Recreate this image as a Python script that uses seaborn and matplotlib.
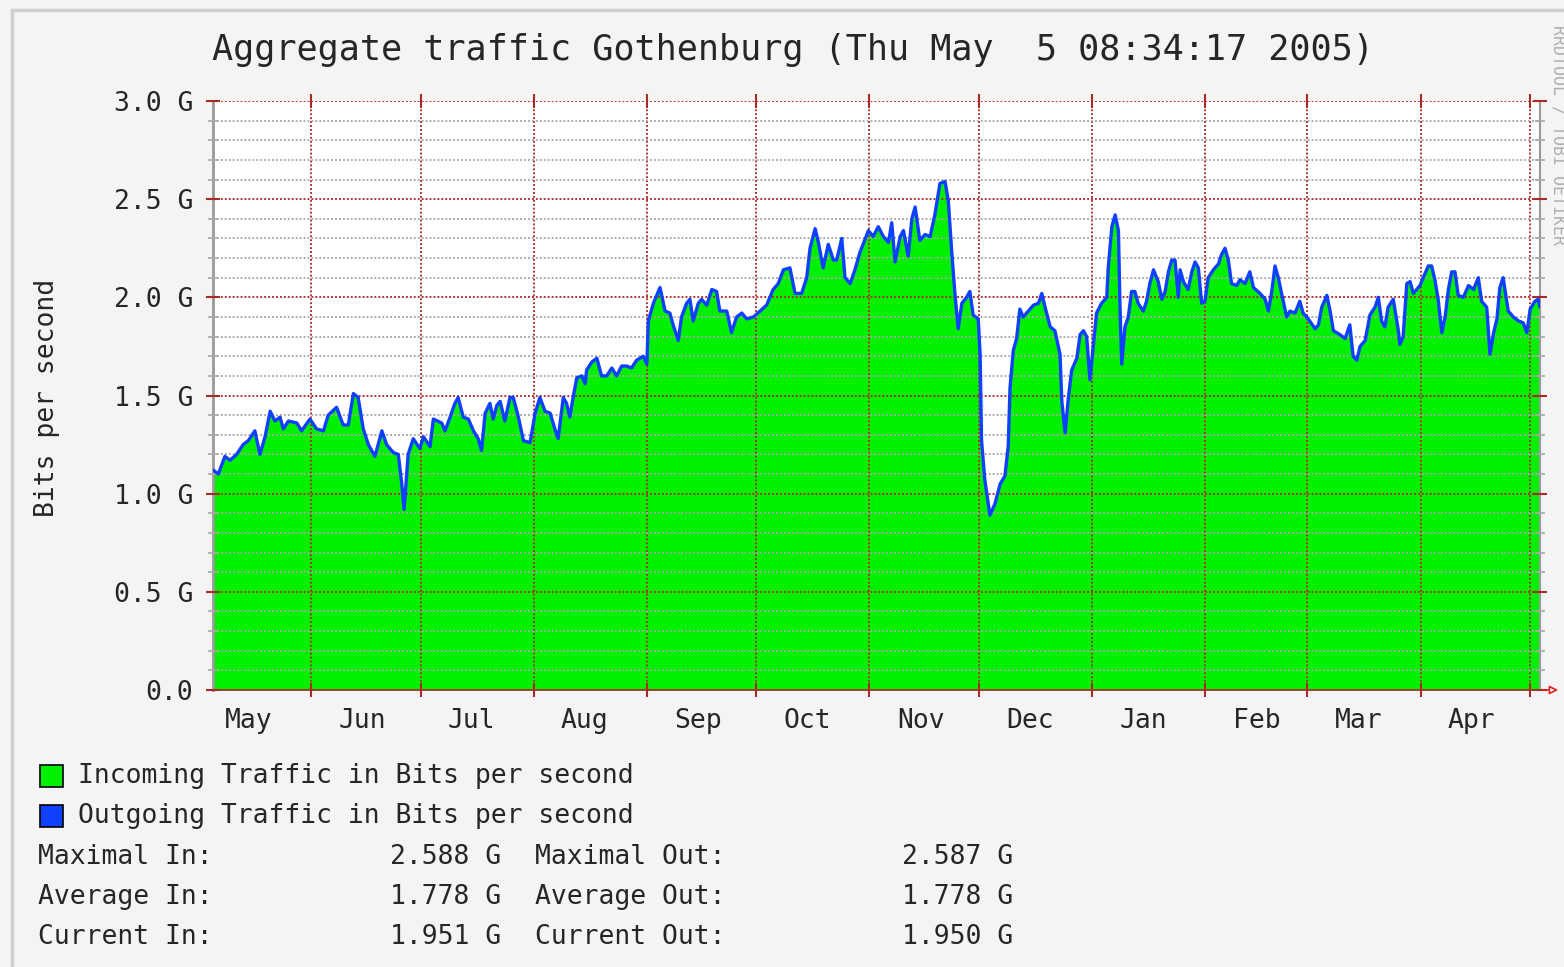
import pandas as pd
import matplotlib
matplotlib.use("Agg")
import matplotlib.pyplot as plt
import matplotlib.dates as mdates
from matplotlib.ticker import MultipleLocator, FixedLocator, FixedFormatter, NullFormatter
from matplotlib.patches import Rectangle
from matplotlib.lines import Line2D
import seaborn as sns

# ---- data -----------------------------------------------------------------
START = pd.Timestamp("2004-05-05")
END_DAY = 363.7

# days since START
days = [
    0.2, 1.6, 3.4, 4.8, 6.6, 8.4, 9.8, 11.6, 13.0, 14.4, 15.8, 17.1, 18.5, 19.4,
    20.8, 23.1, 24.4, 26.7, 28.5, 30.4, 31.7, 34.0, 35.8, 37.2, 38.6, 39.9, 41.3,
    42.7, 44.5, 46.4, 47.7, 49.5, 50.9, 51.8, 52.5, 53.6, 55.0, 56.8, 57.8,
    59.6, 60.5, 62.8, 63.7, 65.1, 66.4, 67.3, 68.7, 70.1, 71.5, 72.8, 73.7, 74.7,
    76.0, 76.9, 77.9, 78.8, 80.1, 81.5, 82.4, 83.8, 85.2, 87.0, 88.4, 89.7, 91.1,
    92.5, 93.8, 94.7, 96.1, 97.0, 97.9, 98.8, 99.8, 101.2, 102.1, 102.5, 103.9,
    105.3, 106.6, 108.0, 109.4, 110.7, 112.1, 113.5, 114.8, 116.2, 118.0, 119.0,
    119.4, 120.8, 122.6, 124.0, 125.3, 126.2, 127.6, 128.5, 129.9, 130.8, 131.7,
    133.1, 134.0, 135.4, 136.8, 138.1, 139.0, 140.9, 142.2, 143.6, 145.0, 146.4,
    148.2, 150.0, 151.8, 153.6, 155.0, 156.4, 158.2, 159.6, 161.4, 162.8, 163.7,
    165.1, 166.0, 167.3, 168.7, 170.1, 171.0, 172.4, 173.3, 174.7, 176.0, 177.4,
    179.7, 181.0, 182.4, 183.8, 185.2, 186.1, 187.0, 188.4, 189.3, 190.6, 191.6,
    192.5, 193.8, 195.2, 196.6, 197.9, 199.3, 200.7, 201.6, 202.5, 203.4, 204.3,
    205.3, 206.6, 207.5, 208.4, 209.8, 210.3, 210.7, 211.6, 213.0, 214.4, 215.8,
    217.1, 218.0, 218.5, 219.4, 220.3, 221.2, 222.1, 223.5, 224.9, 226.3, 227.2,
    228.1, 229.5, 230.8, 232.2, 232.7, 233.6, 234.5, 235.4, 236.8, 237.7, 238.6,
    239.5,
    240.4, 241.3, 242.2, 243.6, 245.0, 245.4, 246.4, 247.3, 248.2, 248.6, 249.1,
    250.0, 250.9, 251.8, 252.7, 253.6, 255.0, 255.9, 256.8, 257.8, 259.1, 260.1,
    261.0, 261.9, 262.8, 263.7, 264.6, 265.1, 266.0, 267.3, 268.3, 269.2, 270.1,
    271.0, 271.9, 272.8, 274.2, 275.6, 276.5, 277.4, 278.3, 279.2, 280.6, 281.5,
    282.9, 284.2, 285.2, 287.0, 288.4, 289.3, 290.2, 291.1, 292.0, 292.9, 294.3,
    295.2, 296.6, 297.9, 298.8, 300.2,
    302.1, 303.0, 303.9, 305.3, 306.2, 307.1, 308.9, 310.3, 311.6, 312.5, 313.5,
    314.4, 315.8, 317.1, 318.5, 319.4, 320.3, 321.2, 322.1, 323.5, 324.9, 325.3,
    326.2, 327.2, 328.1, 329.0, 329.9, 330.8, 331.7, 333.1, 334.0, 334.9, 335.8,
    336.8, 337.7, 338.6, 339.5, 340.4, 341.3, 342.7, 344.1, 345.5, 346.8, 347.7,
    349.1, 350.0, 351.0, 351.9, 352.7, 353.6, 355.0, 356.4, 357.8, 359.1, 360.1,
    361.0, 362.3, 363.2, 363.7,
]

# incoming traffic, Gbit/s
traffic_in = [
    1.12, 1.10, 1.19, 1.17, 1.20, 1.25, 1.27, 1.32, 1.20, 1.29, 1.42, 1.37, 1.39, 1.33,
    1.37, 1.36, 1.32, 1.38, 1.33, 1.32, 1.40, 1.44, 1.35, 1.35, 1.51, 1.49, 1.33,
    1.25, 1.19, 1.32, 1.25, 1.21, 1.20, 1.06, 0.92, 1.20, 1.28, 1.23, 1.29,
    1.24, 1.38, 1.36, 1.32, 1.39, 1.46, 1.49, 1.39, 1.38, 1.32, 1.28, 1.22, 1.41,
    1.46, 1.38, 1.45, 1.47, 1.37, 1.49, 1.49, 1.39, 1.27, 1.26, 1.41, 1.49, 1.42,
    1.41, 1.33, 1.28, 1.49, 1.46, 1.39, 1.49, 1.59, 1.60, 1.56, 1.63, 1.67,
    1.69, 1.60, 1.60, 1.64, 1.60, 1.65, 1.65, 1.64, 1.68, 1.70, 1.66,
    1.88, 1.97, 2.05, 1.93, 1.92, 1.86, 1.78, 1.90, 1.97, 1.99, 1.88,
    1.97, 1.99, 1.96, 2.04, 2.03, 1.93, 1.93, 1.82, 1.90, 1.92, 1.89,
    1.90, 1.93, 1.96, 2.04, 2.07, 2.14, 2.15, 2.02, 2.02, 2.10, 2.25,
    2.35, 2.28, 2.15, 2.27, 2.19, 2.19, 2.30, 2.10, 2.07, 2.14, 2.23,
    2.34, 2.31, 2.36, 2.31, 2.28, 2.38, 2.18, 2.31, 2.34, 2.21, 2.40,
    2.46, 2.29, 2.32, 2.31, 2.42, 2.58, 2.59, 2.49, 2.24, 2.02, 1.84,
    1.97, 2.00, 2.03, 1.91, 1.89, 1.71, 1.27, 1.07, 0.89, 0.95, 1.05,
    1.09, 1.24, 1.54, 1.73, 1.79, 1.94, 1.90, 1.93, 1.96, 1.97, 2.02,
    1.95, 1.85, 1.83, 1.71, 1.47, 1.31, 1.49, 1.63, 1.69, 1.81, 1.83,
    1.80,
    1.58, 1.75, 1.92, 1.97, 2.00, 2.15, 2.36, 2.42, 2.34, 1.98, 1.66,
    1.85, 1.90, 2.03, 2.03, 1.97, 1.93, 1.98, 2.07, 2.14, 2.08, 1.99,
    2.03, 2.13, 2.19, 2.19, 2.00, 2.14, 2.08, 2.04, 2.13, 2.18, 2.15,
    1.97, 1.98, 2.10, 2.14, 2.17, 2.22, 2.25, 2.19, 2.07, 2.06, 2.09,
    2.07, 2.13, 2.05, 2.02, 1.99, 1.93, 2.03, 2.16, 2.10, 2.02, 1.90,
    1.93, 1.92, 1.98, 1.92, 1.89,
    1.84, 1.86, 1.95, 2.01, 1.93, 1.83, 1.81, 1.79, 1.86, 1.70, 1.68,
    1.75, 1.78, 1.91, 1.95, 2.00, 1.88, 1.85, 1.95, 1.99, 1.83, 1.76,
    1.80, 2.07, 2.08, 2.02, 2.04, 2.06, 2.10, 2.16, 2.16, 2.09, 1.99,
    1.82, 1.90, 2.04, 2.13, 2.13, 2.01, 2.00, 2.06, 2.04, 2.10, 1.98,
    1.95, 1.71, 1.82, 1.89, 2.05, 2.10, 1.93, 1.90, 1.88, 1.87, 1.82,
    1.94, 1.98, 1.99, 1.95,
]
# outgoing traffic is indistinguishable from incoming on this graph
traffic_out = traffic_in

y_ticks = [0.0, 0.5, 1.0, 1.5, 2.0, 2.5, 3.0]
y_tick_labels = ["0.0", "0.5 G", "1.0 G", "1.5 G", "2.0 G", "2.5 G", "3.0 G"]

titulo = "Aggregate traffic Gothenburg (Thu May  5 08:34:17 2005)"
leyenda = ["Incoming Traffic in Bits per second", "Outgoing Traffic in Bits per second"]
stats_in = [("Maximal In:", "2.588 G"), ("Average In:", "1.778 G"), ("Current In:", "1.951 G")]
stats_out = [("Maximal Out:", "2.587 G"), ("Average Out:", "1.778 G"), ("Current Out:", "1.950 G")]

# ---- style -----------------------------------------------------------------
VERDE = "#00f000"
AZUL = "#1040ff"
ROJO = "#aa2a2a"
GRIS = "#a8a8a8"
FONDO = "#f4f4f4"

sns.set_style("white")
plt.rcParams["font.family"] = ["DejaVu Sans Mono"]

W, H = 1564, 967
def fx(px):
    return px / W
def fy(py):
    return 1 - py / H

df = pd.DataFrame({
    "time": START + pd.to_timedelta(days, unit="D"),
    "in": traffic_in,
    "out": traffic_out,
})

fig = plt.figure(figsize=(W / 100, H / 100), dpi=100, facecolor=FONDO)
L, R, T, B = 212.5, 1540, 101, 690
ax = fig.add_axes([fx(L), fy(B), (R - L) / W, (B - T) / H])
ax.set_facecolor("white")

ax.fill_between(df["time"], df["in"], color=VERDE, lw=0, zorder=1)
sns.lineplot(data=df, x="time", y="out", color=AZUL, lw=2.4, ax=ax, zorder=3)

ax.set_xlim(START, START + pd.Timedelta(days=END_DAY))
ax.set_ylim(0, 3.0)

# y axis
ax.yaxis.set_major_locator(FixedLocator(y_ticks))
ax.yaxis.set_major_formatter(FixedFormatter(y_tick_labels))
ax.yaxis.set_minor_locator(MultipleLocator(0.1))
ax.tick_params(axis="y", which="major", direction="inout", length=10, width=1.5,
               color=ROJO, left=True, right=True, labelsize=19, pad=9)
ax.tick_params(axis="y", which="minor", direction="inout", length=7, width=1.2,
               color=GRIS, left=True, right=True)

# x axis: lines at month starts, labels mid month
ax.xaxis.set_major_locator(mdates.MonthLocator(bymonthday=1))
ax.xaxis.set_major_formatter(NullFormatter())
ax.xaxis.set_minor_locator(mdates.MonthLocator(bymonthday=15))
ax.xaxis.set_minor_formatter(mdates.DateFormatter("%b"))
ax.tick_params(axis="x", which="major", direction="inout", length=10, width=1.5,
               color=ROJO, bottom=True, top=True)
ax.tick_params(axis="x", which="minor", length=0, labelsize=19, pad=13)

ax.set_xlabel("")
ax.set_ylabel("")

ax.set_axisbelow(False)
ax.grid(which="major", axis="both", color=ROJO, ls=(0, (1, 1.1)), lw=1.35)
ax.grid(which="minor", axis="y", color=GRIS, ls=(0, (1, 1.1)), lw=1.35)

ax.spines["top"].set_visible(False)
ax.spines["left"].set_color("#9a9a9a")
ax.spines["left"].set_linewidth(2)
ax.spines["right"].set_color("#9a9a9a")
ax.spines["right"].set_linewidth(1.5)
ax.spines["bottom"].set_color(ROJO)
ax.spines["bottom"].set_linewidth(1.2)

# arrow at the end of the x axis
ax.annotate("", xy=(fx(1561), fy(B)), xytext=(fx(R), fy(B)),
            xycoords="figure fraction", textcoords="figure fraction",
            arrowprops=dict(arrowstyle="-|>,head_length=0.5,head_width=0.25",
                            ec="#dd2020", fc="white", lw=1.2))

# ---- texts -------------------------------------------------------------------
fig.text(fx(793), fy(50), titulo, ha="center", va="center", fontsize=25.3)
fig.text(fx(47), fy(398), "Bits per second", rotation=90, ha="center", va="center",
         fontsize=19)
fig.text(fx(1558), fy(135), "RRDTOOL / TOBI OETIKER", rotation=270, ha="center",
         va="center", fontsize=12, color="#b0b0b0")

for i, (texto, color) in enumerate(zip(leyenda, [VERDE, AZUL])):
    yc = 776 + i * 40
    fig.patches.append(Rectangle((fx(40), fy(yc + 11)), 23 / W, 22 / H,
                                 transform=fig.transFigure, fc=color, ec="black", lw=1.2))
    fig.text(fx(78), fy(yc), texto, ha="left", va="center", fontsize=19)

for i, ((lab_in, val_in), (lab_out, val_out)) in enumerate(zip(stats_in, stats_out)):
    yc = 857 + i * 40
    fig.text(fx(38), fy(yc), lab_in, ha="left", va="center", fontsize=19)
    fig.text(fx(390), fy(yc), val_in, ha="left", va="center", fontsize=19)
    fig.text(fx(535), fy(yc), lab_out, ha="left", va="center", fontsize=19)
    fig.text(fx(902), fy(yc), val_out, ha="left", va="center", fontsize=19)

# light frame on top and left
fig.add_artist(Line2D([fx(12), fx(12)], [fy(10), fy(967)], color="#cfcfcf", lw=2.5,
                      transform=fig.transFigure))
fig.add_artist(Line2D([fx(12), fx(1564)], [fy(10), fy(10)], color="#cfcfcf", lw=2.5,
                      transform=fig.transFigure))

fig.savefig("out.png", dpi=100, facecolor=fig.get_facecolor())
